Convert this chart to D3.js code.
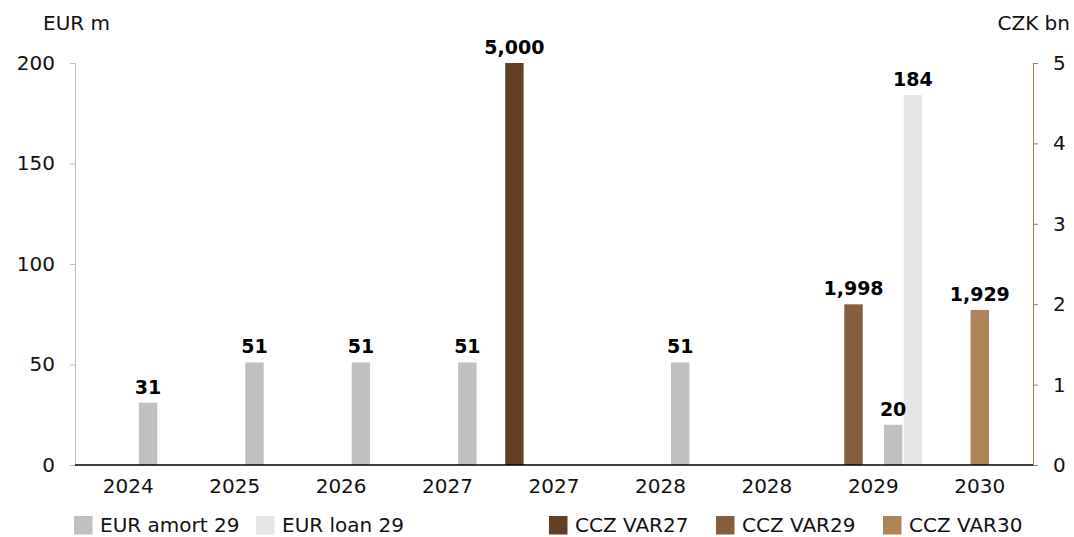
<!DOCTYPE html>
<html>
<head>
<meta charset="utf-8">
<script src="https://cdn.jsdelivr.net/npm/d3@7"></script>
<style>
  html, body { margin: 0; padding: 0; background: #fff; }
  svg { display: block; font-family: "DejaVu Sans", sans-serif; }
</style>
</head>
<body>
<svg id="chart" width="1074" height="537"></svg>
<script>
// Category labels along the x axis (repeated years are separate slots)
const categories = ["2024", "2025", "2026", "2027", "2027b", "2028", "2028b", "2029", "2030"];
const categoryLabels = ["2024", "2025", "2026", "2027", "2027", "2028", "2028", "2029", "2030"];

// EUR series (left axis, EUR m)
const eurAmort29 = [31, 51, 51, 51, null, 51, null, 20, null];
const eurLoan29  = [null, null, null, null, null, null, null, 184, null];

// CZK series (right axis, CZK m; axis ticks shown in bn)
const cczVar27 = [null, null, null, null, 5000, null, null, null, null];
const cczVar29 = [null, null, null, null, null, null, null, 1998, null];
const cczVar30 = [null, null, null, null, null, null, null, null, 1929];

const leftTicks = [0, 50, 100, 150, 200];
const rightTicks = [0, 1000, 2000, 3000, 4000, 5000];

const series = [
  { key: "CCZ VAR27",    values: cczVar27,   axis: "right", color: "#643f23" },
  { key: "CCZ VAR29",    values: cczVar29,   axis: "right", color: "#855e3c" },
  { key: "CCZ VAR30",    values: cczVar30,   axis: "right", color: "#b0835a" },
  { key: "EUR amort 29", values: eurAmort29, axis: "left",  color: "#c0c0c0" },
  { key: "EUR loan 29",  values: eurLoan29,  axis: "left",  color: "#e5e5e5" }
];

const FS = 20;
const svg = d3.select("#chart");
const m = { left: 75, right: 1033, top: 63, bottom: 465 };

const x0 = d3.scaleBand().domain(categories).range([m.left, m.right]).paddingInner(0).paddingOuter(0);
const bw = x0.bandwidth();
const x1 = d3.scaleBand().domain(series.map(s => s.key))
  .range([bw * 0.035, bw * 0.965]).paddingInner(0.07).paddingOuter(0.035);

const yL = d3.scaleLinear().domain([0, 200]).range([m.bottom, m.top]);
const yR = d3.scaleLinear().domain([0, 5000]).range([m.bottom, m.top]);

// Left axis
const gL = svg.append("g").attr("transform", `translate(${m.left},0)`)
  .call(d3.axisLeft(yL).tickValues(leftTicks).tickSize(5).tickPadding(15));
gL.select(".domain").attr("stroke", "#bfbfbf");
gL.selectAll(".tick line").attr("stroke", "#bfbfbf");
gL.selectAll(".tick text").attr("font-size", FS).attr("fill", "#111").attr("font-family", "DejaVu Sans");

// Right axis
const gR = svg.append("g").attr("transform", `translate(${m.right},0)`)
  .call(d3.axisRight(yR).tickValues(rightTicks).tickSize(5).tickPadding(15).tickFormat(d => d / 1000));
gR.select(".domain").attr("stroke", "#a27a52");
gR.selectAll(".tick line").attr("stroke", "#a27a52");
gR.selectAll(".tick text").attr("font-size", FS).attr("fill", "#111").attr("font-family", "DejaVu Sans");

// Bars first, then value labels on top
const fmt = d3.format(",");
const barLayer = svg.append("g");
const labelLayer = svg.append("g");
series.forEach(s => {
  const y = s.axis === "left" ? yL : yR;
  const pts = categories.map((c, i) => ({ c, v: s.values[i] })).filter(d => d.v != null);
  barLayer.append("g").selectAll("rect").data(pts).join("rect")
    .attr("x", d => x0(d.c) + x1(s.key))
    .attr("width", x1.bandwidth())
    .attr("y", d => y(d.v))
    .attr("height", d => y(0) - y(d.v))
    .attr("fill", s.color);
  labelLayer.append("g").selectAll("text").data(pts).join("text")
    .attr("x", d => x0(d.c) + x1(s.key) + x1.bandwidth() / 2)
    .attr("y", d => y(d.v) - 9)
    .attr("text-anchor", "middle")
    .attr("font-size", 19).attr("font-weight", "bold").attr("fill", "#000")
    .text(d => fmt(d.v));
});

// Baseline
svg.append("line").attr("x1", m.left).attr("x2", m.right)
  .attr("y1", m.bottom).attr("y2", m.bottom).attr("stroke", "#000").attr("stroke-width", 1.5);

// Category labels
svg.append("g").selectAll("text").data(categories).join("text")
  .attr("x", d => x0(d) + bw / 2).attr("y", 493)
  .attr("text-anchor", "middle").attr("font-size", FS).attr("fill", "#111")
  .text((d, i) => categoryLabels[i]);

// Axis titles
svg.append("text").attr("x", 43).attr("y", 30).attr("font-size", FS).attr("fill", "#111").text("EUR m");
svg.append("text").attr("x", 1070).attr("y", 30).attr("text-anchor", "end").attr("font-size", FS).attr("fill", "#111").text("CZK bn");

// Legend: EUR series on the left, CZK series on the right
const legendOrder = ["EUR amort 29", "EUR loan 29", "CCZ VAR27", "CCZ VAR29", "CCZ VAR30"];
const legendX = [74, 256, 549, 716, 883];
const lg = svg.append("g");
legendOrder.forEach((k, i) => {
  const s = series.find(d => d.key === k);
  lg.append("rect").attr("x", legendX[i]).attr("y", 516).attr("width", 18.5).attr("height", 18.5).attr("fill", s.color);
  lg.append("text").attr("x", legendX[i] + 26).attr("y", 532).attr("font-size", FS).attr("fill", "#111").text(k);
});
</script>
</body>
</html>
